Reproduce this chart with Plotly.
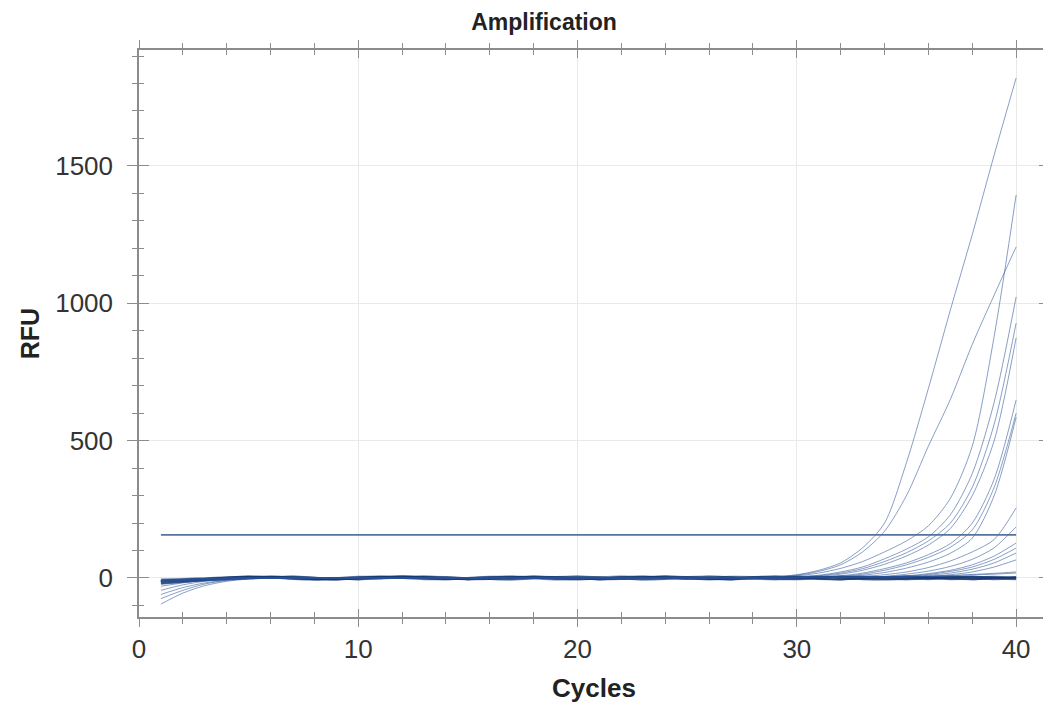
import plotly.graph_objects as go

cycles = list(range(1, 41))

# amplifying wells (RFU per cycle 1..40)
well_A = [-12,-8,-5,-3,-1,0,1,2,1,0, 1,2,1,0,-1,0,1,0,-1,0, 1,0,-1,-2,-1,0,1,2,
          5,12,28,55,110,200,420,690,975,1250,1540,1820]
well_B = [-15,-10,-6,-3,-1,0,2,1,0,-1, 0,1,2,1,0,-1,0,1,1,0, -1,0,1,0,-1,0,1,1,
          4,10,24,48,95,170,300,480,650,850,1030,1205]
well_C = [-60,-35,-18,-8,-3,-1,0,1,2,1, 0,-1,0,1,0,1,2,1,0,-1, 0,1,0,-1,0,1,2,2,4,
          8,18,35,60,95,135,190,290,480,880,1394]
well_D = [-10,-6,-3,-1,0,1,0,-1,0,1, 2,1,0,-1,-2,-1,0,1,2,1, 0,-1,0,1,0,-1,0,1,2,4,
          10,22,40,70,105,150,230,380,640,1023]
well_E = [-45,-25,-12,-5,-2,0,1,0,1,2, 1,0,-1,0,1,0,-1,0,1,2, 1,0,-1,0,1,1,0,1,2,3,
          8,18,34,60,92,135,200,330,560,928]
well_F = [-8,-5,-2,0,1,0,-1,0,1,0, -1,0,2,1,0,1,0,-1,-1,0, 1,2,1,0,-1,0,1,0,1,2,
          6,14,28,50,80,120,180,300,500,874]
well_G = [-14,-9,-5,-2,0,1,2,1,0,-1, 0,1,1,0,-1,0,1,2,1,0, -1,0,0,1,0,-1,0,1,1,2,3,
          8,18,34,55,85,125,200,360,648]
well_H = [-75,-45,-22,-9,-3,-1,0,1,0,1, 2,1,0,-1,0,1,0,1,2,1, 0,-1,0,1,0,0,1,0,1,2,3,
          6,14,28,48,75,112,175,330,600]
well_H2 = [-11,-7,-4,-2,0,1,0,-1,0,1, 1,0,-1,0,1,2,1,0,-1,0, 1,0,-1,-1,0,1,0,0,1,1,2,
           4,10,20,36,58,90,145,300,585]
well_I = [-9,-6,-3,-1,0,1,1,0,-1,0, 1,2,1,0,-1,0,1,0,-1,0, 1,1,0,-1,0,1,0,-1,0,1, 1,2,
          5,12,22,38,62,95,140,255]
well_J = [-95,-55,-28,-12,-4,-1,0,1,0,-1, 0,1,2,1,0,-1,0,1,0,1, 2,1,0,-1,0,1,0,-1,0,1, 1,2,3,
          6,14,25,42,68,110,186]
well_K = [-13,-8,-4,-2,0,1,0,-1,0,1, 2,1,0,0,-1,0,1,2,1,0, -1,0,1,0,-1,0,1,1,0,1, 2,2,3,5,
          8,16,28,48,80,127]
well_L = [-30,-18,-9,-4,-1,0,1,0,1,0, -1,0,1,2,1,0,-1,0,1,0, 0,1,0,-1,0,1,0,1,1,2, 2,3,3,4,
          6,13,24,40,68,109]
well_M = [-10,-6,-3,-1,0,1,2,1,0,-1, 0,1,0,-1,0,1,2,1,0,-1, 0,1,1,0,-1,0,1,0,1,1, 2,2,3,3,
          5,10,18,32,55,91]
well_N = [-12,-7,-4,-2,0,0,1,0,-1,0, 1,2,1,0,-1,0,1,0,1,2, 1,0,-1,0,1,0,0,1,0,1, 1,2,2,3,4,
          6,12,22,40,66]
well_O = [-9,-5,-2,0,1,0,-1,0,1,2, 1,0,-1,0,1,0,-1,0,1,1, 0,-1,0,1,2,1,0,-1,0,1, 2,2,3,4,5,6,
          9,13,17,22]
well_P = [-14,-8,-4,-1,0,1,0,1,0,-1, 0,1,1,0,-1,0,1,2,1,0, -1,0,1,0,-1,0,1,0,1,2, 2,3,3,4,5,6,
          8,11,14,18]

# non-amplifying wells
well_Z1 = [-16,-12,-8,-4,-2,3,5,2,-3,-5, -2,4,6,3,-1,-4,-6,-2,3,5, 2,-3,-5,-1,4,6,2,-3,-5,-2, 3,5,1,-4,-5,-1,3,5,2,-2]
well_Z2 = [-8,-6,-3,2,5,3,-2,-5,-4,1, 5,4,-1,-5,-3,2,6,3,-2,-4, -1,4,5,1,-3,-5,-2,3,6,2, -3,-5,-1,4,3,-2,-5,-3,1,3]
well_Z3 = [-20,-14,-9,-5,0,4,6,2,-3,-6, -3,2,5,4,0,-4,-5,-1,4,6, 3,-2,-6,-4,1,5,4,-1,-5,-4, 1,6,4,-2,-5,-3,2,5,3,-1]
well_Z4 = [-5,-3,0,3,5,1,-4,-6,-2,3, 6,2,-3,-5,-1,4,5,0,-4,-6, -2,3,6,2,-3,-5,-1,4,5,1, -4,-5,0,4,6,2,-3,-5,-2,2]
well_Z5 = [-22,-15,-9,-4,1,5,3,-2,-6,-3, 2,6,3,-2,-5,-2,3,6,2,-3, -6,-2,4,5,0,-4,-5,1,5,3, -2,-6,-3,2,6,3,-2,-5,-1,4]
well_Z6 = [-12,-8,-4,1,4,2,-3,-5,0,5, 4,-1,-5,-4,1,5,3,-2,-6,-2, 3,6,2,-3,-4,0,5,4,-1,-5, -3,2,6,3,-2,-5,-2,3,5,1]
well_Z7 = [-10,-7,-3,2,6,4,-1,-5,-6,-1, 4,6,2,-3,-6,-3,2,5,4,-1, -5,-4,1,6,3,-2,-6,-3,2,5, 4,-1,-5,-4,0,5,4,-2,-5,-3]
well_Z8 = [-14,-9,-5,-1,3,6,2,-3,-5,-2, 3,6,4,-1,-5,-4,1,5,2,-2, -5,-3,2,6,4,-1,-5,-3,1,4, 5,1,-4,-6,-2,3,5,2,-3,-5]

amplifying = [well_A, well_B, well_C, well_D, well_E, well_F, well_G, well_H, well_H2,
              well_I, well_J, well_K, well_L, well_M, well_N, well_O, well_P]
flat = [well_Z1, well_Z2, well_Z3, well_Z4, well_Z5, well_Z6, well_Z7, well_Z8]

threshold_value = 157
threshold_x = [1, 40]

x_ticks = [0, 10, 20, 30, 40]
y_ticks = [0, 500, 1000, 1500]

FONT = "Liberation Sans, Arial, sans-serif"
fig = go.Figure()

for w in flat:
    fig.add_trace(go.Scatter(x=cycles, y=w, mode="lines",
                             line=dict(color="rgba(20,55,115,0.6)", width=1.6,
                                       shape="spline", smoothing=0.6),
                             showlegend=False, hoverinfo="skip"))
for w in amplifying:
    fig.add_trace(go.Scatter(x=cycles, y=w, mode="lines",
                             line=dict(color="rgba(40,80,150,0.55)", width=1,
                                       shape="spline", smoothing=0.8),
                             showlegend=False, hoverinfo="skip"))

fig.add_trace(go.Scatter(x=threshold_x, y=[threshold_value] * len(threshold_x), mode="lines",
                         line=dict(color="#56739e", width=1.6),
                         showlegend=False, hoverinfo="skip"))

# dummy trace for the inner-tick overlay axes
fig.add_trace(go.Scatter(x=[None], y=[None], xaxis="x2", yaxis="y2",
                         showlegend=False, hoverinfo="skip"))

xr = [0, 41.5]
yr = [-142, 1922]
axis_line = "#8c8c8c"

# page has an 8px body margin, so the figure is sized/offset to compensate
W, H = 1043, 699
fig.update_layout(
    width=W, height=H,
    margin=dict(l=131, r=2, t=42, b=90, autoexpand=False),
    paper_bgcolor="white", plot_bgcolor="white",
    font=dict(family=FONT, color="#333333"),
    title=dict(text="<b>Amplification</b>", x=536 / W, xref="container", xanchor="center",
               y=1 - 14 / H, yref="container", yanchor="middle",
               font=dict(size=23, color="#222222", family=FONT)),
    xaxis=dict(range=xr, tickvals=x_ticks, ticks="outside", ticklen=8, tickwidth=1,
               automargin=False,
               tickcolor=axis_line, showline=True, linecolor=axis_line, linewidth=1.5,
               mirror="ticks", showgrid=True, gridcolor="#e9e9e9", gridwidth=1,
               zeroline=False, tickfont=dict(size=26, color="#333333"),
               minor=dict(dtick=2, ticks="outside", ticklen=5, tickcolor=axis_line, showgrid=False),
               title=dict(text="<b>Cycles</b>", font=dict(size=26, color="#222222"), standoff=16)),
    yaxis=dict(range=yr, tickvals=y_ticks, ticks="outside", ticklen=10, tickwidth=1,
               automargin=False,
               tickcolor=axis_line, showline=True, linecolor=axis_line, linewidth=1.5,
               mirror="ticks", showgrid=True, gridcolor="#e9e9e9", gridwidth=1,
               zeroline=False, tickfont=dict(size=26, color="#333333"),
               ticklabelstandoff=9,
               minor=dict(dtick=100, ticks="outside", ticklen=5, tickcolor=axis_line, showgrid=False),
               title=dict(text="<b>RFU</b>", font=dict(size=25, color="#222222"), standoff=8)),
    xaxis2=dict(range=xr, overlaying="x", anchor="y", side="bottom", tickvals=x_ticks,
                automargin=False,
                ticks="inside", ticklen=8, tickcolor=axis_line, showticklabels=False,
                showgrid=False, showline=False, zeroline=False, mirror="ticks",
                minor=dict(dtick=2, ticks="inside", ticklen=5, tickcolor=axis_line)),
    yaxis2=dict(range=yr, overlaying="y", anchor="x", side="left", tickvals=y_ticks,
                automargin=False,
                ticks="inside", ticklen=10, tickcolor=axis_line, showticklabels=False,
                showgrid=False, showline=False, zeroline=False, mirror="ticks",
                minor=dict(dtick=100, ticks="inside", ticklen=5, tickcolor=axis_line)),
)

fig.write_html("out.html")
